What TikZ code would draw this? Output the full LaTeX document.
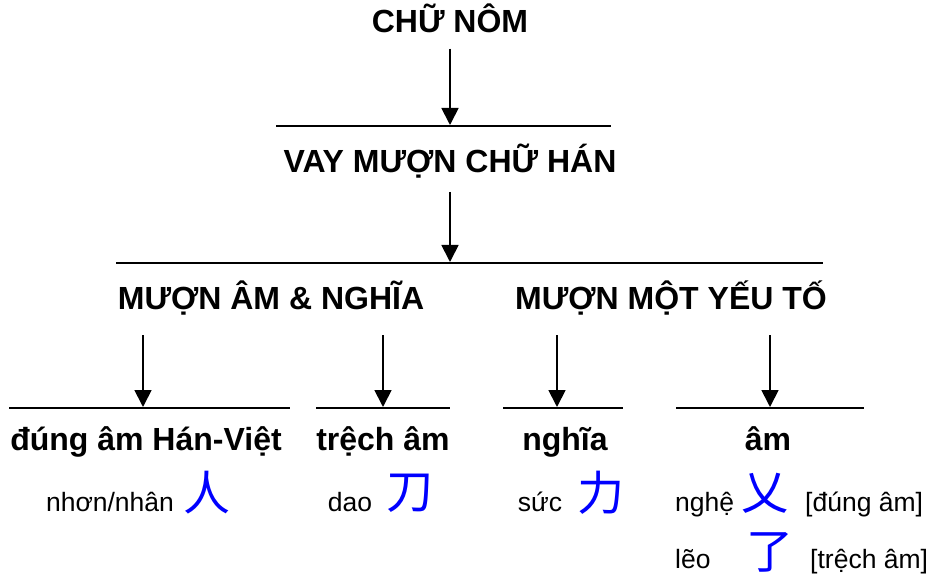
\documentclass[tikz,border=0pt]{standalone}
\usepackage{fontspec}
\setmainfont{Liberation Sans}
\newfontfamily\cjkfont{Noto Sans CJK SC}
\usetikzlibrary{arrows.meta}
\begin{document}
\begin{tikzpicture}[x=1pt,y=-1pt,
  hd/.style={font=\fontsize{32}{34}\selectfont\bfseries, anchor=base, inner sep=0pt},
  tx/.style={font=\fontsize{26.5}{28}\selectfont, anchor=base, inner sep=0pt},
  hz/.style={font=\fontsize{47}{48}\selectfont\cjkfont, text=blue, inner sep=0pt},
  bar/.style={line width=1.8pt},
  arr/.style={line width=1.8pt, -{Triangle[length=17pt,width=17pt]}}]
\useasboundingbox (0,0) rectangle (929,577);
% level 0
\node[hd] (n0) at (450,33) {CHỮ NÔM};
\coordinate (l1a) at (276,126); \coordinate (l1b) at (611,126); \coordinate (t1) at (450,125);
\draw[bar] (l1a) -- (l1b);
\draw[arr, shorten <=15pt] (n0.south) -- (t1);
% level 1
\node[hd] (n1) at (450,173) {VAY MƯỢN CHỮ HÁN};
\coordinate (l2a) at (116,263); \coordinate (l2b) at (823,263); \coordinate (t2) at (450,262);
\draw[bar] (l2a) -- (l2b);
\draw[arr, shorten <=19pt] (n1.base) -- (t2);
% level 2
\node[hd] (n2a) at (271,310) {MƯỢN ÂM \& NGHĨA};
\node[hd] (n2b) at (671,310) {MƯỢN MỘT YẾU TỐ};
\coordinate (s1) at (143,335); \coordinate (e1) at (143,407);
\coordinate (s2) at (383,335); \coordinate (e2) at (383,407);
\coordinate (s3) at (557,335); \coordinate (e3) at (557,407);
\coordinate (s4) at (770,335); \coordinate (e4) at (770,407);
\draw[arr] (s1) -- (e1);
\draw[arr] (s2) -- (e2);
\draw[arr] (s3) -- (e3);
\draw[arr] (s4) -- (e4);
\coordinate (b1a) at (9,408);   \coordinate (b1b) at (290,408);
\coordinate (b2a) at (316,408); \coordinate (b2b) at (450,408);
\coordinate (b3a) at (503,408); \coordinate (b3b) at (623,408);
\coordinate (b4a) at (676,408); \coordinate (b4b) at (864,408);
\draw[bar] (b1a) -- (b1b);
\draw[bar] (b2a) -- (b2b);
\draw[bar] (b3a) -- (b3b);
\draw[bar] (b4a) -- (b4b);
% level 3
\node[hd] (c1) at (146,450) {đúng âm Hán-Việt};
\node[hd] (c2) at (383,450) {trệch âm};
\node[hd] (c3) at (565,450) {nghĩa};
\node[hd] (c4) at (768,450) {âm};
% examples
\node[tx] (x1) at (110,511) {nhơn/nhân};
\node[hz] (h1) at (207,493) {人};
\node[tx] (x2) at (350,511) {dao};
\node[hz] (h2) at (410,493) {刀};
\node[tx] (x3) at (540,511) {sức};
\node[hz] (h3) at (601,493) {力};
\node[tx, anchor=base west] (x4) at (675,511) {nghệ};
\node[hz] (h4) at (765,493) {乂};
\node[tx, anchor=base west] (x5) at (805,511) {[đúng âm]};
\node[tx, anchor=base west] (x6) at (675,568) {lẽo};
\node[hz] (h5) at (770,552) {了};
\node[tx, anchor=base west] (x7) at (810,568) {[trệch âm]};
\end{tikzpicture}
\end{document}
